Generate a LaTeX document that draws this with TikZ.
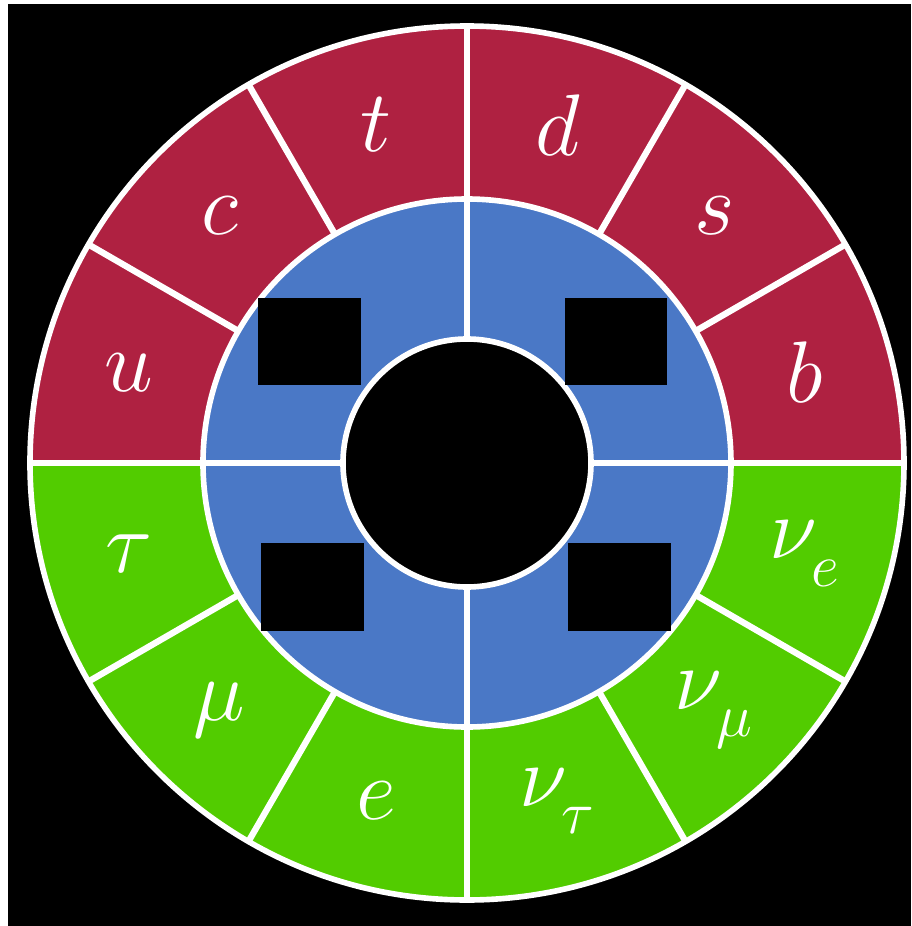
\documentclass[tikz,border=0pt]{standalone}
\usetikzlibrary{positioning}
\definecolor{quarkred}{HTML}{AF2141}
\definecolor{bosonblue}{HTML}{4A78C6}
\definecolor{leptgreen}{HTML}{52CC00}
\newcommand{\lowsub}[1]{_{\lower4pt\hbox{$\scriptstyle #1$}}}
\tikzset{
  sep/.style={draw=white,line width=1.8pt},
  rim/.style={draw=white,line width=1.6pt},
  lab/.style={text=white,font=\fontsize{26}{30}\selectfont,inner sep=0pt},
  mask/.style={fill=black},
}
\begin{document}
\begin{tikzpicture}
  % frame
  \fill[black] (-4.67,-4.63) rectangle (4.44,4.63);
  \fill[white] (-4.67,-4.63) rectangle (-4.59,4.63);
  \fill[white] (-4.67,4.59) rectangle (4.44,4.63);
  \useasboundingbox (-4.67,-4.63) rectangle (4.44,4.63);
  % rings
  \fill[quarkred] (4.37,0) arc (0:180:4.37) -- cycle;
  \fill[leptgreen] (-4.37,0) arc (180:360:4.37) -- cycle;
  \fill[bosonblue] (0,0) circle (2.64);
  \fill[black] (0,0) circle (1.24);
  \foreach \a in {0,30,...,330}
    \draw[sep] (\a:2.64) -- (\a:4.37);
  \foreach \a in {0,90,180,270}
    \draw[sep] (\a:1.24) -- (\a:2.64);
  \draw[rim] (0,0) circle (4.37);
  \draw[rim] (0,0) circle (2.64);
  \draw[rim] (0,0) circle (1.24);
  % hidden labels
  \fill[mask] (-2.09,0.78) rectangle (-1.06,1.65);
  \fill[mask] (0.98,0.78) rectangle (2.00,1.65);
  \fill[mask] (-2.06,-0.80) rectangle (-1.03,-1.68);
  \fill[mask] (1.01,-0.80) rectangle (2.04,-1.68);
  % fermions
  \node[lab] (u) at (165:3.5) {$u$};
  \node[lab] (c) at (135:3.5) {$c$};
  \node[lab] (t) at (105:3.5) {$t$};
  \node[lab] (d) at (75:3.5) {$d$};
  \node[lab] (s) at (45:3.5) {$s$};
  \node[lab] (b) at (15:3.5) {$b$};
  \node[lab] (nue) at (-15:3.5) {$\nu\lowsub{e}$};
  \node[lab] (numu) at (-45:3.5) {$\nu\lowsub{\mu}$};
  \node[lab] (nutau) at (-75:3.5) {$\nu\lowsub{\tau}$};
  \node[lab] (e) at (-105:3.5) {$e$};
  \node[lab] (mu) at (-135:3.5) {$\mu$};
  \node[lab] (tau) at (-165:3.5) {$\tau$};
\end{tikzpicture}
\end{document}
